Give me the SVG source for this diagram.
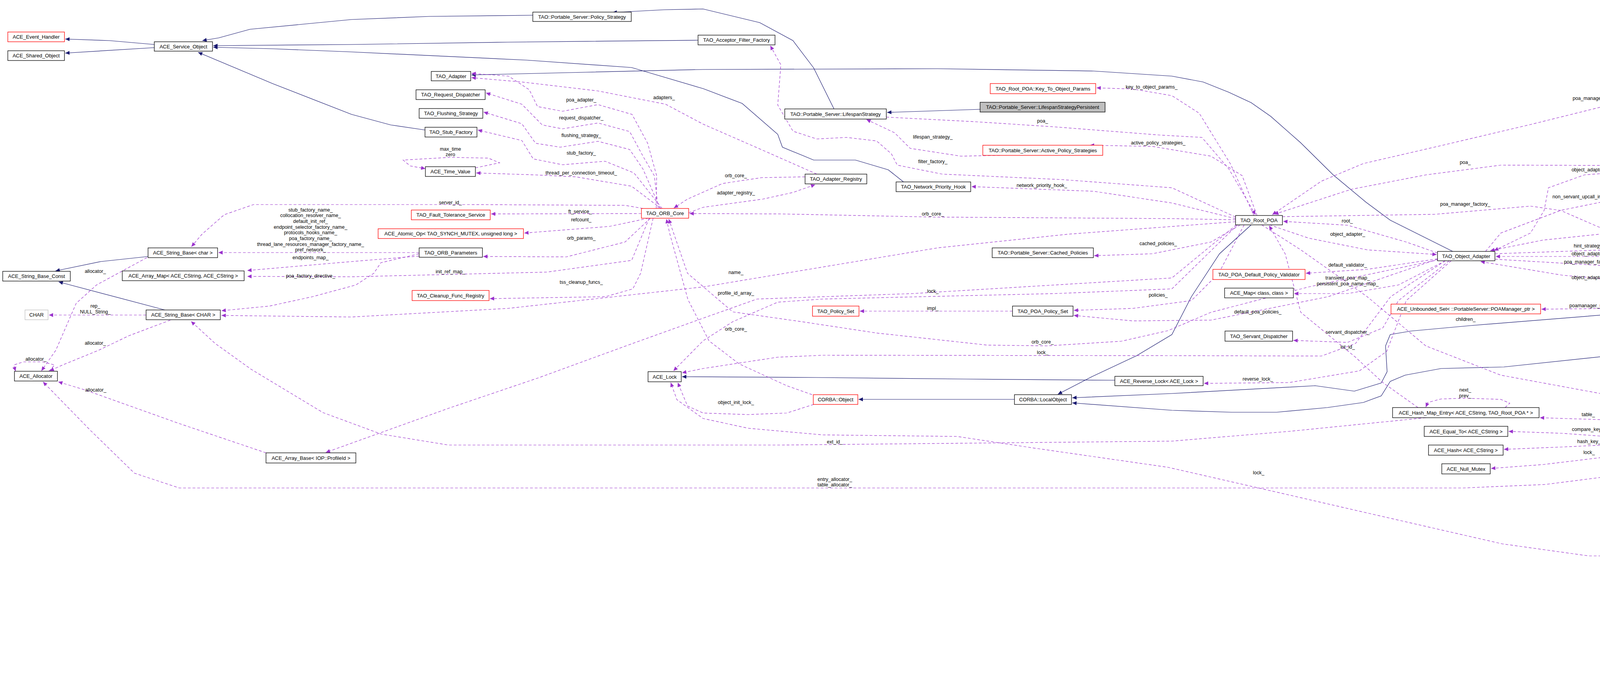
<svg xmlns="http://www.w3.org/2000/svg" width="5432" height="1747" viewBox="0 0 5432 1747">
<defs>
<marker id="ap" viewBox="0 0 10 10" refX="10" refY="5" markerWidth="13" markerHeight="11" markerUnits="userSpaceOnUse" orient="auto"><path d="M0,0.5 L10,5 L0,9.5 z" fill="#9a32cd"/></marker>
<marker id="an" viewBox="0 0 10 10" refX="10" refY="5" markerWidth="13" markerHeight="11" markerUnits="userSpaceOnUse" orient="auto"><path d="M0,0.5 L10,5 L0,9.5 z" fill="#191970"/></marker>
<style>
rect{fill:#fff;stroke:#000;stroke-width:1.3}
.r rect{stroke:#f00}
.g rect{stroke:#bfbfbf}
.p rect{fill:#bfbfbf}
text{font-family:"Liberation Sans",Arial,sans-serif;font-size:13px;fill:#000}
.n text{text-anchor:middle}
.l text{text-anchor:middle;font-size:12.5px}
.u{fill:none;stroke:#9a32cd;stroke-width:1.2;stroke-dasharray:7,5;marker-end:url(#ap)}
.i{fill:none;stroke:#191970;stroke-width:1.2;marker-end:url(#an)}
</style>
</defs>
<rect x="0" y="0" width="5432" height="1747" style="fill:#fff;stroke:none"/>
<g id="edges">
<path class="i" d="M395,114 L280,104 L167,100"/>
<path class="i" d="M395,122 L167,136"/>
<path class="i" d="M1364,39 L1100,42 L900,50 L640,75 L560,97 L518,104"/>
<path class="i" d="M1787,103 L1300,108 L900,114 L546,117"/>
<path class="i" d="M2313,466 L2274,435 L2190,410 L2083,410 L2003,377 L1991,344 L1900,265 L1800,227 L1617,173 L1348,154 L900,133 L700,125 L546,121"/>
<path class="i" d="M1088,333 L1000,320 L900,293 L700,215 L507,134"/>
<path class="i" d="M2135,279 L2083,174 L2030,104 L1945,58 L1800,23 L1700,25 L1568,32"/>
<path class="i" d="M2509,280 L2271,288"/>
<path class="i" d="M379,657 L258,670 L142,694"/>
<path class="i" d="M422,794 L150,722"/>
<path class="i" d="M3719,644 L3559,564 L3497,518 L3413,448 L3329,365 L3253,298 L3203,263 L3145,236 L3080,210 L3000,195 L2800,182 L2400,176 L1800,178 L1500,185 L1207,192"/>
<path class="i" d="M3203,576 L3122,650 L3050,760 L3000,857 L2910,911 L2795,965 L2708,1010"/>
<path class="i" d="M4551,759 L4506,763 L4200,799 L3765,834 L3612,848 L3559,857 L3547,886 L3551,952 L3536,981 L3467,1002 L3367,988 L3000,1008 L2745,1019"/>
<path class="i" d="M5283,757 L4200,903 L3850,940 L3689,944 L3597,961 L3559,977 L3536,1014 L3490,1031 L3398,1044 L3268,1056 L3153,1056 L3000,1051 L2745,1032"/>
<path class="i" d="M2597,1023 L2198,1023"/>
<path class="i" d="M2854,974 L2473,971 L2091,967 L1746,965"/>

<path class="u" d="M1646,534 L1600,526 L1200,524 L649,524 L574,550 L517,600 L490,632"/>
<path class="u" d="M1073,647 L559,647"/>
<path class="u" d="M1073,656 L900,670 L633,693"/>
<path class="u" d="M1073,650 L975,673 L957,700 L911,730 L800,760 L690,784 L567,796"/>
<path class="u" d="M1662,559 L1617,667 L1400,697 L900,709 L633,708"/>
<path class="u" d="M1692,534 L1617,477 L1474,453 L1371,448 L1219,443"/>
<path class="u" d="M1642,547 L1257,548"/>
<path class="u" d="M1660,559 L1560,580 L1342,597"/>
<path class="u" d="M1665,559 L1600,620 L1450,658 L1237,657"/>
<path class="u" d="M1672,559 L1640,700 L1620,740 L1550,760 L1254,765"/>
<path class="u" d="M1680,534 L1681,450 L1658,367 L1618,293 L1531,268 L1440,285 L1376,273 L1355,230 L1302,195 L1207,188"/>
<path class="u" d="M1685,534 L1675,450 L1646,400 L1612,337 L1531,315 L1440,330 L1388,320 L1336,267 L1244,238"/>
<path class="u" d="M1690,534 L1646,433 L1612,383 L1531,362 L1434,377 L1371,367 L1336,317 L1238,287"/>
<path class="u" d="M1695,534 L1623,443 L1549,413 L1440,422 L1365,407 L1336,360 L1223,333"/>
<path class="u" d="M2091,446 L1953,385 L1800,318 L1704,267 L1531,233 L1336,210 L1207,199"/>
<path class="u" d="M2061,453 L1950,455 L1850,470 L1760,510 L1725,533"/>
<path class="u" d="M1763,545 L1800,531 L1953,510 L2030,493 L2087,473"/>
<path class="u" d="M3163,563 L3000,560 L2700,558 L2388,556 L2000,548 L1765,547"/>
<path class="u" d="M1217,430 L1279,417 L1250,405 L1153,403 L1032,410 L1050,425 L1089,432"/>
<path class="u" d="M125,951 L140,935 L110,927 L60,927 L35,935 L40,951"/>
<path class="u" d="M376,660 L247,730 L195,777 L143,897 L120,930 L106,950"/>
<path class="u" d="M436,820 L330,860 L253,897 L160,935 L127,950"/>
<path class="u" d="M681,1160 L459,1085 L218,999 L149,978"/>
<path class="u" d="M4584,1143 L4239,1205 L3956,1241 L3746,1250 L459,1250 L344,1212 L230,1101 L110,978"/>
<path class="u" d="M374,807 L125,807"/>
<path class="u" d="M3650,1070 L3300,1105 L3000,1130 L2000,1140 L1148,1140 L976,1112 L827,1057 L643,946 L551,880 L489,823"/>
<path class="u" d="M3163,568 L2733,600 L2400,635 L1800,735 L1300,790 L900,812 L567,808"/>
<path class="u" d="M2592,797 L2201,797"/>
<path class="u" d="M3185,576 L3120,700 L3050,770 L2900,790 L2749,795"/>
<path class="u" d="M3680,664 L3400,760 L3100,820 L2900,822 L2749,808"/>
<path class="u" d="M3175,576 L3100,620 L2950,650 L2801,655"/>
<path class="u" d="M3218,552 L3180,450 L3100,400 L2950,375 L2790,372"/>
<path class="u" d="M2560,398 L2460,400 L2330,380 L2290,340 L2218,306"/>
<path class="u" d="M3163,556 L3000,481 L2718,460 L2412,446 L2297,423 L2282,394 L2244,361 L2167,352 L2091,356 L2030,336 L1991,269 L1999,166 L1972,117"/>
<path class="u" d="M2269,300 L2500,312 L2700,325 L2970,346 L3077,352 L3146,433 L3214,550"/>
<path class="u" d="M3210,552 L3150,420 L3070,290 L3000,245 L2900,228 L2807,225"/>
<path class="u" d="M3163,560 L3000,520 L2800,490 L2487,478"/>
<path class="u" d="M5347,734 L5300,607 L5221,495 L5104,384 L4946,295 L4781,250 L4500,225 L4200,249 L3918,319 L3689,373 L3490,419 L3383,464 L3257,550"/>
<path class="u" d="M4503,433 L4200,424 L3842,423 L3650,448 L3459,485 L3262,549"/>
<path class="u" d="M4503,440 L4200,437 L4056,448 L3964,481 L3953,539 L3918,597 L3825,642"/>
<path class="u" d="M3803,644 L3842,597 L3995,539 L4200,497 L4502,455"/>
<path class="u" d="M4785,440 L4844,417 L4800,405 L4642,404 L4460,410 L4443,417 L4470,425 L4502,431"/>
<path class="u" d="M3283,555 L3673,549 L3918,528 L3995,539 L4110,589 L4163,622 L4200,670 L4300,720 L4549,738"/>
<path class="u" d="M3680,648 L3600,620 L3450,577 L3285,567"/>
<path class="u" d="M3250,576 L3350,610 L3500,640 L3678,652"/>
<path class="u" d="M3827,650 L4200,637 L4523,637"/>
<path class="u" d="M4525,650 L4200,657 L3829,657"/>
<path class="u" d="M3827,664 L4100,680 L4400,715 L4549,736"/>
<path class="u" d="M4551,752 L4300,730 L4000,705 L3790,670"/>
<path class="u" d="M5331,734 L5182,643 L4986,594 L4750,574 L4514,571 L4200,589 L3950,615 L3815,642"/>
<path class="u" d="M4551,755 L4300,788 L3946,792"/>
<path class="u" d="M3230,576 L3330,640 L3500,760 L3650,886 L3842,961 L4200,1027 L4584,1114"/>
<path class="u" d="M3680,663 L3500,690 L3343,700"/>
<path class="u" d="M3700,668 L3580,730 L3450,752 L3313,752"/>
<path class="u" d="M3710,668 L3580,770 L3540,840 L3450,877 L3311,872"/>
<path class="u" d="M3715,668 L3600,770 L3550,900 L3480,950 L3300,980 L3082,982"/>
<path class="u" d="M3853,1044 L3865,1033 L3842,1023 L3750,1020 L3689,1022 L3655,1031 L3650,1043"/>
<path class="u" d="M4222,1116 L4100,1075 L3942,1070"/>
<path class="u" d="M4192,1124 L4000,1110 L3862,1105"/>
<path class="u" d="M4192,1136 L4000,1145 L3850,1151"/>
<path class="u" d="M4470,1142 L4200,1160 L3950,1190 L3817,1200"/>
<path class="u" d="M5283,747 L4741,747"/>
<path class="u" d="M3630,1044 L3540,980 L3470,915 L3330,800 L3290,650 L3249,578"/>
<path class="u" d="M5347,759 L5284,946 L5237,1000 L5102,1143 L4831,1286 L4547,1386 L4313,1424 L4067,1424 L3845,1393 L3500,1314 L3222,1250 L2990,1197 L2642,1147 L2450,1118 L2106,1114 L1915,1097 L1800,1072 L1733,1024 L1717,980"/>
<path class="u" d="M2083,1036 L2014,1058 L1915,1062 L1800,1058 L1760,1040 L1735,980"/>
<path class="u" d="M2079,1011 L2014,988 L1892,932 L1815,873 L1761,767 L1715,600 L1706,561"/>
<path class="u" d="M3685,665 L3350,735 L3100,800 L2990,847 L2871,874 L2680,886 L2527,884 L2244,853 L2052,824 L1876,799 L1760,700 L1712,561"/>
<path class="u" d="M3700,668 L3560,760 L3470,880 L3383,912 L3000,911 L2106,910 L1991,915 L1800,944 L1746,955"/>
<path class="u" d="M3168,576 L3000,740 L2700,752 L2106,766 L1991,774 L1876,824 L1800,873 L1724,950"/>
<path class="u" d="M3165,576 L3000,712 L2700,730 L2336,752 L1938,766 L1800,815 L1619,880 L1378,968 L1148,1046 L834,1159"/>
</g>
<g class="l">
<text x="795" y="542">stub_factory_name_</text>
<text x="795" y="556">collocation_resolver_name_</text>
<text x="795" y="571">default_init_ref_</text>
<text x="795" y="586">endpoint_selector_factory_name_</text>
<text x="795" y="600">protocols_hooks_name_</text>
<text x="795" y="615">poa_factory_name_</text>
<text x="795" y="630">thread_lane_resources_manager_factory_name_</text>
<text x="795" y="644">pref_network_</text>
<text x="795" y="664">endpoints_map_</text>
<text x="795" y="711">poa_factory_directive_</text>
<text x="244" y="699">allocator_</text>
<text x="244" y="788">rep_</text>
<text x="244" y="803">NULL_String_</text>
<text x="244" y="883">allocator_</text>
<text x="92" y="924">allocator_</text>
<text x="245" y="1003">allocator_</text>
<text x="1488" y="260">poa_adapter_</text>
<text x="1488" y="306">request_dispatcher_</text>
<text x="1488" y="351">flushing_strategy_</text>
<text x="1488" y="396">stub_factory_</text>
<text x="1700" y="254">adapters_</text>
<text x="1153" y="386">max_time</text>
<text x="1153" y="400">zero</text>
<text x="1488" y="447">thread_per_connection_timeout_</text>
<text x="1153" y="523">server_id_</text>
<text x="1485" y="546">ft_service_</text>
<text x="1488" y="567">refcount_</text>
<text x="1488" y="614">orb_params_</text>
<text x="1153" y="700">init_ref_map_</text>
<text x="1488" y="727">tss_cleanup_funcs_</text>
<text x="2948" y="227">key_to_object_params_</text>
<text x="2669" y="314">poa_</text>
<text x="2388" y="355">lifespan_strategy_</text>
<text x="2388" y="418">filter_factory_</text>
<text x="1884" y="454">orb_core_</text>
<text x="1884" y="498">adapter_registry_</text>
<text x="2667" y="479">network_priority_hook_</text>
<text x="2388" y="552">orb_core_</text>
<text x="2965" y="370">active_policy_strategies_</text>
<text x="2965" y="628">cached_policies_</text>
<text x="2965" y="760">policies_</text>
<text x="3220" y="803">default_poa_policies_</text>
<text x="1884" y="702">name_</text>
<text x="1884" y="755">profile_id_array_</text>
<text x="2388" y="750">lock_</text>
<text x="2388" y="794">impl_</text>
<text x="1884" y="847">orb_core_</text>
<text x="2669" y="880">orb_core_</text>
<text x="2669" y="907">lock_</text>
<text x="1884" y="1035">object_init_lock_</text>
<text x="2137" y="1136">ext_id_</text>
<text x="2137" y="1232">entry_allocator_</text>
<text x="2137" y="1246">table_allocator_</text>
<text x="4068" y="256">poa_manager_</text>
<text x="3751" y="420">poa_</text>
<text x="4068" y="439">object_adapter_</text>
<text x="4068" y="508">non_servant_upcall_in_progress_</text>
<text x="3751" y="527">poa_manager_factory_</text>
<text x="3449" y="570">root_</text>
<text x="3450" y="604">object_adapter_</text>
<text x="4068" y="634">hint_strategy_</text>
<text x="4068" y="654">object_adapter_</text>
<text x="4068" y="675">poa_manager_factory_</text>
<text x="4068" y="715">object_adapter_</text>
<text x="3450" y="683">default_validator_</text>
<text x="3450" y="716">transient_poa_map_</text>
<text x="3450" y="731">persistent_poa_name_map_</text>
<text x="4068" y="787">poamanager_set_</text>
<text x="3752" y="822">children_</text>
<text x="3450" y="855">servant_dispatcher_</text>
<text x="3450" y="893">int_id_</text>
<text x="3220" y="975">reverse_lock_</text>
<text x="3751" y="1003">next_</text>
<text x="3751" y="1018">prev_</text>
<text x="4066" y="1066">table_</text>
<text x="4068" y="1104">compare_keys_</text>
<text x="4068" y="1135">hash_key_</text>
<text x="4068" y="1163">lock_</text>
<text x="3222" y="1215">lock_</text>
<text x="4642" y="401">previous_</text>
<text x="4642" y="568">object_adapter_</text>
<text x="5188" y="743">poa_manager_factory_</text>
</g>
<g class="n">
<g id="n1" class="r"><rect x="20" y="82" width="145" height="25"/><text x="92.5" y="99">ACE_Event_Handler</text></g>
<g id="n2"><rect x="20" y="130" width="145" height="25"/><text x="92.5" y="147">ACE_Shared_Object</text></g>
<g id="n3"><rect x="395" y="107" width="149" height="24"/><text x="469.5" y="124">ACE_Service_Object</text></g>
<g id="n4"><rect x="379" y="635" width="178" height="25"/><text x="468" y="652">ACE_String_Base&lt; char &gt;</text></g>
<g id="n5"><rect x="7" y="695" width="173" height="25"/><text x="93.5" y="712">ACE_String_Base_Const</text></g>
<g id="n6"><rect x="313" y="694" width="312" height="25"/><text x="469" y="711">ACE_Array_Map&lt; ACE_CString, ACE_CString &gt;</text></g>
<g id="n7" class="g"><rect x="64" y="794" width="59" height="25"/><text x="93.5" y="811">CHAR</text></g>
<g id="n8"><rect x="374" y="794" width="190" height="25"/><text x="469" y="811">ACE_String_Base&lt; CHAR &gt;</text></g>
<g id="n9"><rect x="1364" y="31" width="252" height="24"/><text x="1490" y="48">TAO::Portable_Server::Policy_Strategy</text></g>
<g id="n10"><rect x="1787" y="90" width="197" height="25"/><text x="1885.5" y="107">TAO_Acceptor_Filter_Factory</text></g>
<g id="n11"><rect x="1104" y="183" width="101" height="24"/><text x="1154.5" y="200">TAO_Adapter</text></g>
<g id="n12"><rect x="1065" y="230" width="177" height="25"/><text x="1153.5" y="247">TAO_Request_Dispatcher</text></g>
<g id="n13"><rect x="1073" y="278" width="163" height="25"/><text x="1154.5" y="295">TAO_Flushing_Strategy</text></g>
<g id="n14"><rect x="1088" y="326" width="133" height="25"/><text x="1154.5" y="343">TAO_Stub_Factory</text></g>
<g id="n15"><rect x="1089" y="427" width="128" height="25"/><text x="1153" y="444">ACE_Time_Value</text></g>
<g id="n16" class="r"><rect x="1053" y="538" width="202" height="25"/><text x="1154" y="555">TAO_Fault_Tolerance_Service</text></g>
<g id="n17" class="r"><rect x="968" y="586" width="372" height="25"/><text x="1154" y="603">ACE_Atomic_Op&lt; TAO_SYNCH_MUTEX, unsigned long &gt;</text></g>
<g id="n18"><rect x="1073" y="635" width="162" height="24"/><text x="1154" y="652">TAO_ORB_Parameters</text></g>
<g id="n19" class="r"><rect x="1055" y="744" width="197" height="26"/><text x="1153.5" y="762">TAO_Cleanup_Func_Registry</text></g>
<g id="n20" class="r"><rect x="1642" y="534" width="121" height="25"/><text x="1702.5" y="551">TAO_ORB_Core</text></g>
<g id="n21" class="r"><rect x="2535" y="214" width="270" height="26"/><text x="2670" y="232">TAO_Root_POA::Key_To_Object_Params</text></g>
<g id="n22" class="p"><rect x="2509" y="262" width="320" height="25"/><text x="2669" y="279">TAO::Portable_Server::LifespanStrategyPersistent</text></g>
<g id="n23"><rect x="2009" y="279" width="260" height="26"/><text x="2139" y="297">TAO::Portable_Server::LifespanStrategy</text></g>
<g id="n24" class="r"><rect x="2516" y="372" width="307" height="26"/><text x="2669.5" y="390">TAO::Portable_Server::Active_Policy_Strategies</text></g>
<g id="n25"><rect x="2061" y="446" width="158" height="25"/><text x="2140" y="463">TAO_Adapter_Registry</text></g>
<g id="n26"><rect x="2294" y="466" width="191" height="25"/><text x="2389.5" y="483">TAO_Network_Priority_Hook</text></g>
<g id="n27"><rect x="2540" y="635" width="259" height="25"/><text x="2669.5" y="652">TAO::Portable_Server::Cached_Policies</text></g>
<g id="n28" class="r"><rect x="2080" y="784" width="119" height="26"/><text x="2139.5" y="802">TAO_Policy_Set</text></g>
<g id="n29"><rect x="2592" y="784" width="155" height="26"/><text x="2669.5" y="802">TAO_POA_Policy_Set</text></g>
<g id="n30"><rect x="2854" y="964" width="226" height="24"/><text x="2967" y="981">ACE_Reverse_Lock&lt; ACE_Lock &gt;</text></g>
<g id="n31" class="r"><rect x="2082" y="1011" width="114" height="25"/><text x="2139" y="1028">CORBA::Object</text></g>
<g id="n32"><rect x="2597" y="1011" width="146" height="25"/><text x="2670" y="1028">CORBA::LocalObject</text></g>
<g id="n33"><rect x="3163" y="552" width="120" height="24"/><text x="3223" y="569">TAO_Root_POA</text></g>
<g id="n34"><rect x="3680" y="644" width="147" height="24"/><text x="3753.5" y="661">TAO_Object_Adapter</text></g>
<g id="n35" class="r"><rect x="3105" y="690" width="236" height="26"/><text x="3223" y="708">TAO_POA_Default_Policy_Validator</text></g>
<g id="n36"><rect x="3135" y="738" width="176" height="25"/><text x="3223" y="755">ACE_Map&lt; class, class &gt;</text></g>
<g id="n37" class="r"><rect x="3561" y="779" width="383" height="25"/><text x="3752.5" y="796">ACE_Unbounded_Set&lt; ::PortableServer::POAManager_ptr &gt;</text></g>
<g id="n38"><rect x="3136" y="848" width="173" height="26"/><text x="3222.5" y="866">TAO_Servant_Dispatcher</text></g>
<g id="n39"><rect x="3565" y="1044" width="375" height="26"/><text x="3752.5" y="1062">ACE_Hash_Map_Entry&lt; ACE_CString, TAO_Root_POA * &gt;</text></g>
<g id="n40"><rect x="3646" y="1092" width="214" height="26"/><text x="3753" y="1110">ACE_Equal_To&lt; ACE_CString &gt;</text></g>
<g id="n41"><rect x="3657" y="1140" width="191" height="26"/><text x="3752.5" y="1158">ACE_Hash&lt; ACE_CString &gt;</text></g>
<g id="n42"><rect x="3691" y="1188" width="124" height="26"/><text x="3753" y="1206">ACE_Null_Mutex</text></g>
<g id="n43"><rect x="4503" y="429" width="282" height="25"/><text x="4644" y="446">TAO::Portable_Server::Non_Servant_Upcall</text></g>
<g id="n44"><rect x="4525" y="633" width="238" height="25"/><text x="4644" y="650">TAO_Object_Adapter::Hint_Strategy</text></g>
<g id="n45"><rect x="4551" y="734" width="188" height="25"/><text x="4645" y="751">TAO_POAManager_Factory</text></g>
<g id="n46" class="r"><rect x="5283" y="734" width="144" height="25"/><text x="5355" y="751">TAO_POA_Manager</text></g>
<g id="n47"><rect x="37" y="951" width="110" height="25"/><text x="92" y="968">ACE_Allocator</text></g>
<g id="n48"><rect x="681" y="1160" width="230" height="26"/><text x="796" y="1178">ACE_Array_Base&lt; IOP::ProfileId &gt;</text></g>
<g id="n49"><rect x="1659" y="952" width="85" height="26"/><text x="1701.5" y="970">ACE_Lock</text></g>
<g id="n50"><rect x="4192" y="1116" width="903" height="26"/><text x="4643.5" y="1134" textLength="880" lengthAdjust="spacingAndGlyphs">ACE_Hash_Map_Manager_Ex&lt; ACE_CString, TAO_Root_POA *, ACE_Hash&lt; ACE_CString &gt;, ACE_Equal_To&lt; ACE_CString &gt;, ACE_Null_Mutex &gt;</text></g>
</g>
</svg>
